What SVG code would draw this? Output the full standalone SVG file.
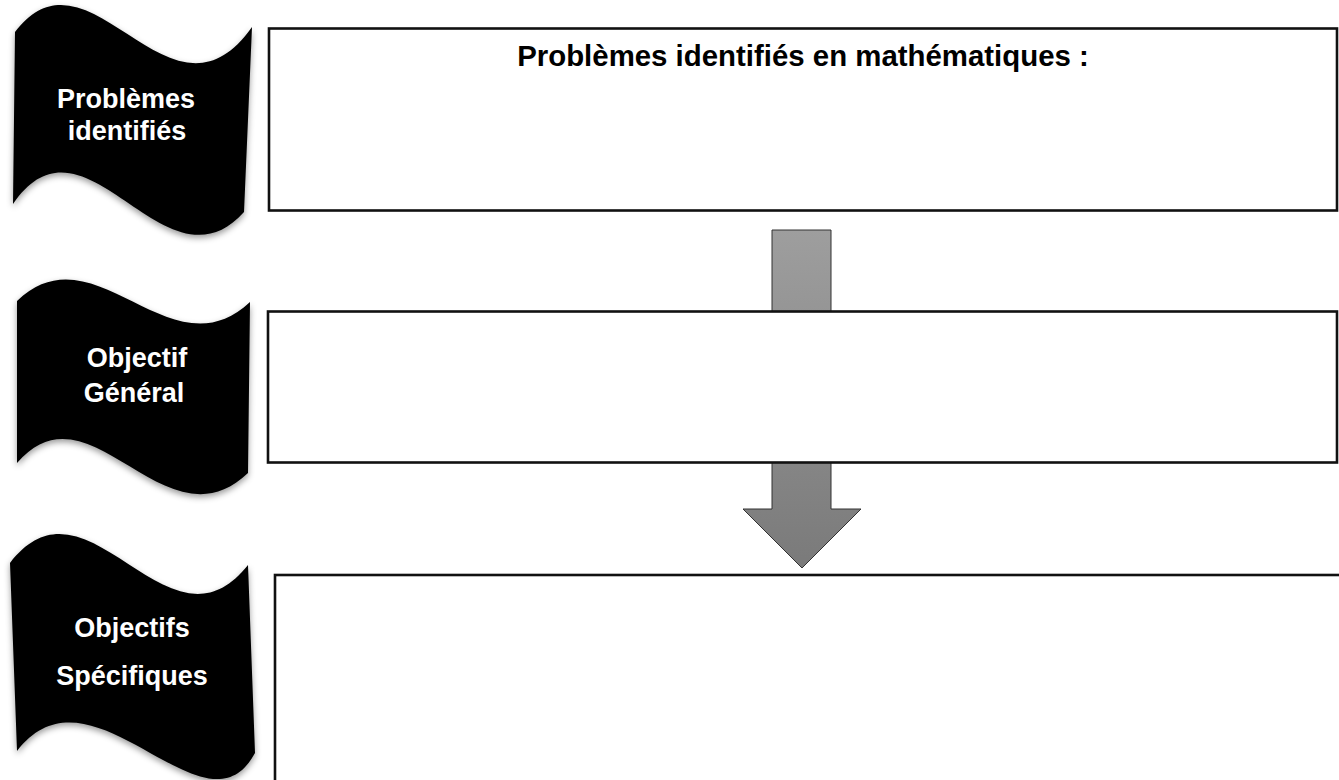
<svg xmlns="http://www.w3.org/2000/svg" width="1339" height="780" viewBox="0 0 1339 780">
  <defs>
    <linearGradient id="arrowGrad" x1="0" y1="0" x2="0" y2="1">
      <stop offset="0" stop-color="#9e9e9e"/>
      <stop offset="1" stop-color="#7a7a7a"/>
    </linearGradient>
    <filter id="shadow" x="-10%" y="-10%" width="120%" height="130%">
      <feDropShadow dx="0" dy="3" stdDeviation="3" flood-color="#000" flood-opacity="0.4"/>
    </filter>
  </defs>
  <style>
    .flag { fill: #030303; filter: url(#shadow); }
    .flagText { font-family: "Liberation Sans", Arial, sans-serif; font-weight: bold; font-size: 27px; fill: #fff; text-anchor: middle; }
    .box { fill: #fff; stroke: #111; stroke-width: 2.6; }
    .title { font-family: "Liberation Sans", Arial, sans-serif; font-weight: bold; font-size: 29.4px; fill: #000; text-anchor: middle; }
    .arrow { fill: url(#arrowGrad); stroke: #333; stroke-width: 1; }
  </style>
  <rect width="1339" height="780" fill="#fff"/>

  <g id="connectors">
    <path class="arrow" d="M772,230 L831,230 L831,509 L861,509 L802,568 L743,509 L772,509 Z"/>
  </g>

  <g id="flag-problemes">
    <path class="flag" d="M15,32 C90,-66 170,143 252,27 L244,212 C165,300 85,98 13,204 Z"/>
    <text class="flagText" x="126" y="108">Problèmes</text>
    <text class="flagText" x="127" y="140">identifiés</text>
  </g>

  <g id="flag-objectif-general">
    <path class="flag" d="M17,301 C95,226 170,377 250,302 L248,473 C165,552 90,378 17,463 Z"/>
    <text class="flagText" x="137" y="367">Objectif</text>
    <text class="flagText" x="134" y="402">Général</text>
  </g>

  <g id="flag-objectifs-specifiques">
    <path class="flag" d="M10,563 C88,462 168,666 248,565 L255,753 C205,846 92,653 17,751 Z"/>
    <text class="flagText" x="132" y="637">Objectifs</text>
    <text class="flagText" x="132" y="685">Spécifiques</text>
  </g>

  <g id="box-problemes">
    <rect class="box" x="269" y="28.5" width="1068" height="182"/>
    <text class="title" x="803" y="66">Problèmes identifiés en mathématiques :</text>
  </g>

  <g id="box-objectif-general">
    <rect class="box" x="268" y="311.5" width="1069" height="151"/>
  </g>

  <g id="box-objectifs-specifiques">
    <rect class="box" x="275" y="575" width="1080" height="230"/>
  </g>
</svg>
